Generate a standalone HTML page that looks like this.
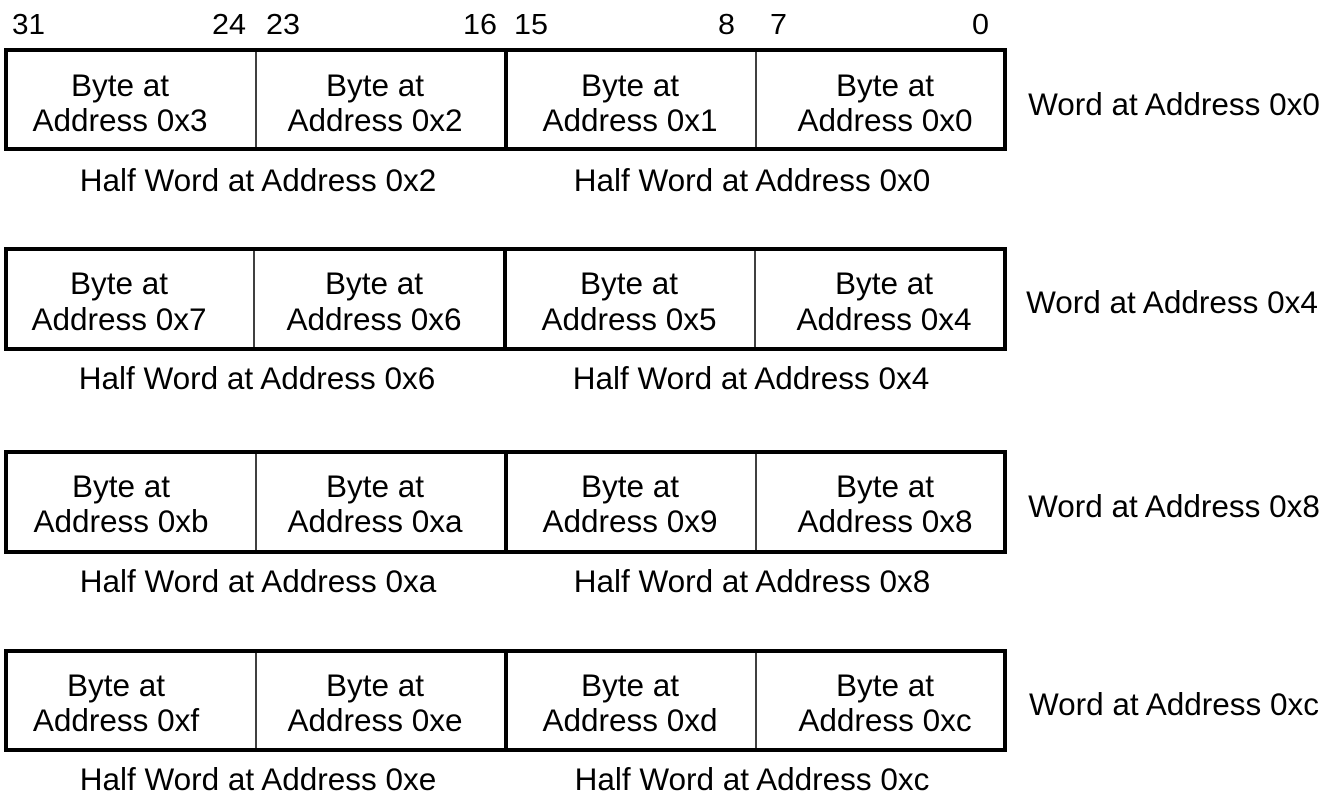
<!DOCTYPE html>
<html><head><meta charset="utf-8"><style>
html,body{margin:0;padding:0;background:#fff;}
svg{display:block;}
text{font-family:"Liberation Sans",Arial,sans-serif;font-size:31.5px;fill:#000;}
text.b{font-size:29px;}
</style></head><body>
<svg width="1334" height="803" viewBox="0 0 1334 803" xmlns="http://www.w3.org/2000/svg">
<g text-anchor="start">
<text class="b" x="12" y="34" textLength="33" lengthAdjust="spacingAndGlyphs">31</text>
<text class="b" x="212" y="34" textLength="34" lengthAdjust="spacingAndGlyphs">24</text>
<text class="b" x="266" y="34" textLength="34" lengthAdjust="spacingAndGlyphs">23</text>
<text class="b" x="463" y="34" textLength="34" lengthAdjust="spacingAndGlyphs">16</text>
<text class="b" x="514" y="34" textLength="34" lengthAdjust="spacingAndGlyphs">15</text>
<text class="b" x="718" y="34" textLength="17" lengthAdjust="spacingAndGlyphs">8</text>
<text class="b" x="770" y="34" textLength="17" lengthAdjust="spacingAndGlyphs">7</text>
<text class="b" x="972" y="34" textLength="17" lengthAdjust="spacingAndGlyphs">0</text>
</g>
<g text-anchor="middle">
<!-- Row 1 -->
<rect x="6" y="50" width="999" height="99" fill="none" stroke="#000" stroke-width="4"/>
<line x1="256" y1="50" x2="256" y2="149" stroke="#000" stroke-width="1.5"/>
<line x1="506" y1="50" x2="506" y2="149" stroke="#000" stroke-width="4"/>
<line x1="756" y1="50" x2="756" y2="149" stroke="#000" stroke-width="1.5"/>
<text x="120" y="96">Byte at</text><text x="120" y="131">Address 0x3</text>
<text x="375" y="96">Byte at</text><text x="375" y="131">Address 0x2</text>
<text x="630" y="96">Byte at</text><text x="630" y="131">Address 0x1</text>
<text x="885" y="96">Byte at</text><text x="885" y="131">Address 0x0</text>
<text x="258" y="191">Half Word at Address 0x2</text>
<text x="752" y="191">Half Word at Address 0x0</text>
<text x="1174" y="115">Word at Address 0x0</text>

<!-- Row 2 -->
<rect x="6" y="249" width="999" height="100" fill="none" stroke="#000" stroke-width="4"/>
<line x1="254" y1="249" x2="254" y2="349" stroke="#000" stroke-width="1.5"/>
<line x1="505" y1="249" x2="505" y2="349" stroke="#000" stroke-width="4"/>
<line x1="755" y1="249" x2="755" y2="349" stroke="#000" stroke-width="1.5"/>
<text x="119" y="294">Byte at</text><text x="119" y="330">Address 0x7</text>
<text x="374" y="294">Byte at</text><text x="374" y="330">Address 0x6</text>
<text x="629" y="294">Byte at</text><text x="629" y="330">Address 0x5</text>
<text x="884" y="294">Byte at</text><text x="884" y="330">Address 0x4</text>
<text x="257" y="389">Half Word at Address 0x6</text>
<text x="751" y="389">Half Word at Address 0x4</text>
<text x="1172" y="313">Word at Address 0x4</text>

<!-- Row 3 -->
<rect x="6" y="452" width="999" height="100" fill="none" stroke="#000" stroke-width="4"/>
<line x1="256" y1="452" x2="256" y2="552" stroke="#000" stroke-width="1.5"/>
<line x1="506" y1="452" x2="506" y2="552" stroke="#000" stroke-width="4"/>
<line x1="756" y1="452" x2="756" y2="552" stroke="#000" stroke-width="1.5"/>
<text x="121" y="497">Byte at</text><text x="121" y="532">Address 0xb</text>
<text x="375" y="497">Byte at</text><text x="375" y="532">Address 0xa</text>
<text x="630" y="497">Byte at</text><text x="630" y="532">Address 0x9</text>
<text x="885" y="497">Byte at</text><text x="885" y="532">Address 0x8</text>
<text x="258" y="592">Half Word at Address 0xa</text>
<text x="752" y="592">Half Word at Address 0x8</text>
<text x="1174" y="517">Word at Address 0x8</text>

<!-- Row 4 -->
<rect x="6" y="651" width="999" height="99" fill="none" stroke="#000" stroke-width="4"/>
<line x1="256" y1="651" x2="256" y2="750" stroke="#000" stroke-width="1.5"/>
<line x1="506" y1="651" x2="506" y2="750" stroke="#000" stroke-width="4"/>
<line x1="756" y1="651" x2="756" y2="750" stroke="#000" stroke-width="1.5"/>
<text x="116" y="696">Byte at</text><text x="116" y="731">Address 0xf</text>
<text x="375" y="696">Byte at</text><text x="375" y="731">Address 0xe</text>
<text x="630" y="696">Byte at</text><text x="630" y="731">Address 0xd</text>
<text x="885" y="696">Byte at</text><text x="885" y="731">Address 0xc</text>
<text x="258" y="790">Half Word at Address 0xe</text>
<text x="752" y="790">Half Word at Address 0xc</text>
<text x="1174" y="715">Word at Address 0xc</text>
</g>
</svg>
</body></html>
